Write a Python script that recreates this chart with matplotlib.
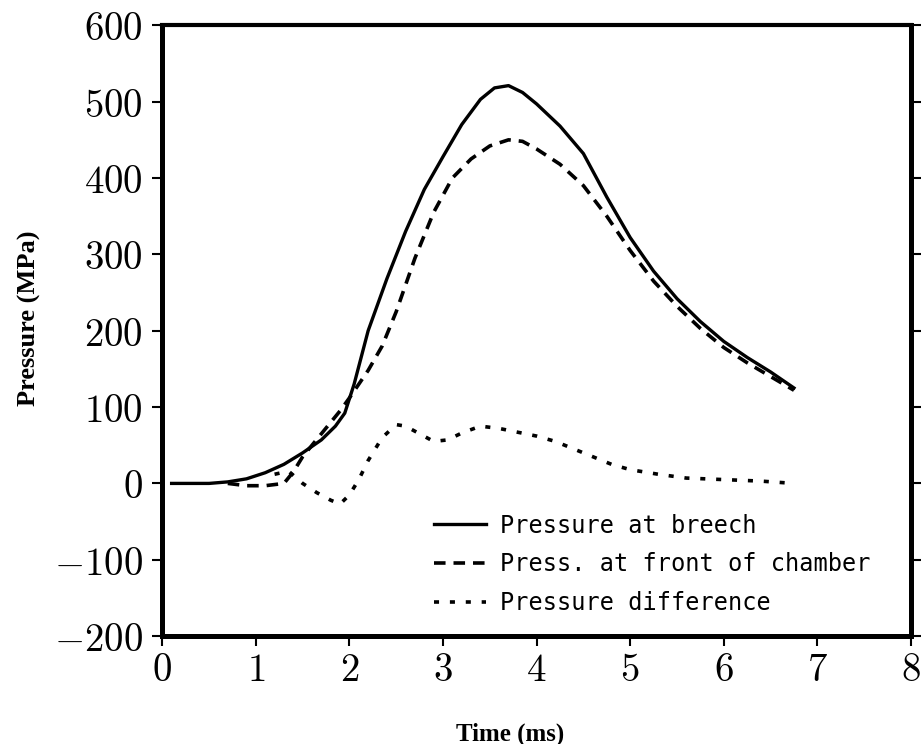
import matplotlib.pyplot as plt
from matplotlib.ticker import FixedLocator, FixedFormatter

plt.rcParams['mathtext.fontset'] = 'cm'

# Pressure at breech
t_breech = [0.1, 0.5, 0.7, 0.9, 1.1, 1.3, 1.5, 1.7, 1.85, 1.95, 2.05, 2.2, 2.4, 2.6, 2.8, 3.0, 3.2, 3.4,
            3.55, 3.7, 3.85, 4.0, 4.25, 4.5, 4.75, 5.0, 5.25, 5.5, 5.75, 6.0, 6.25, 6.5, 6.75]
p_breech = [0, 0, 2, 6, 14, 25, 40, 57, 75, 92, 130, 200, 268, 330, 385, 428, 470, 503,
            518, 521, 512, 497, 468, 432, 375, 322, 278, 242, 212, 186, 165, 146, 125]

# Pressure at front of chamber
t_front = [0.7, 0.9, 1.1, 1.3, 1.4, 1.5, 1.7, 1.9, 2.0, 2.2, 2.35, 2.5, 2.7, 2.9, 3.1, 3.3, 3.5,
           3.7, 3.85, 4.0, 4.25, 4.5, 4.75, 5.0, 5.25, 5.5, 5.75, 6.0, 6.25, 6.5, 6.75]
p_front = [0, -3, -3, 0, 15, 35, 65, 95, 112, 148, 180, 225, 295, 355, 400, 425, 442,
           450, 448, 438, 418, 390, 350, 305, 265, 232, 203, 178, 158, 140, 122]

# Pressure difference
t_diff = [1.2, 1.35, 1.5, 1.65, 1.8, 1.9, 2.0, 2.1, 2.2, 2.35, 2.5, 2.6, 2.75, 2.9, 3.05, 3.2, 3.4,
          3.6, 3.8, 4.0, 4.2, 4.4, 4.6, 4.8, 5.0, 5.3, 5.6, 6.0, 6.4, 6.75]
p_diff = [12, 16, 0, -12, -22, -27, -15, 5, 30, 60, 77, 75, 65, 55, 57, 66, 75,
          72, 67, 62, 55, 45, 35, 25, 18, 12, 7, 5, 3, 0]

xticks = [0, 1, 2, 3, 4, 5, 6, 7, 8]
yticks = [-200, -100, 0, 100, 200, 300, 400, 500, 600]

fig = plt.figure(figsize=(9.22, 7.44), dpi=100)
ax = fig.add_axes([0.176, 0.145, 0.812, 0.821])

ax.plot(t_breech, p_breech, color='black', lw=2.4, label='Pressure at breech')
ax.plot(t_front, p_front, color='black', lw=2.6, linestyle=(0, (3.2, 2.2)),
        label='Press. at front of chamber')
ax.plot(t_diff, p_diff, color='black', lw=2.6, linestyle=(0, (1.4, 3.0)),
        label='Pressure difference')

ax.set_xlim(0, 8)
ax.set_ylim(-200, 600)
ax.xaxis.set_major_locator(FixedLocator(xticks))
ax.xaxis.set_major_formatter(FixedFormatter(['$%d$' % v for v in xticks]))
ax.yaxis.set_major_locator(FixedLocator(yticks))
ax.yaxis.set_major_formatter(FixedFormatter(['$%d$' % v for v in yticks]))

for s in ax.spines.values():
    s.set_linewidth(3.6)
ax.spines['top'].set_linewidth(3.0)
ax.tick_params(axis='both', direction='out', length=7, width=1.5, labelsize=28, pad=7)
ax.tick_params(axis='x', pad=4)
ax.tick_params(axis='y', right=True, labelright=False)

ax.set_xlabel('Time (ms)', family='Liberation Serif', fontweight='bold', fontsize=18, va='center')
ax.xaxis.set_label_coords(0.465, -0.16)
ax.set_ylabel('Pressure (MPa)', family='Liberation Serif', fontweight='bold', fontsize=19, va='center')
ax.yaxis.set_label_coords(-0.178, 0.52)

ax.legend(loc='lower right', frameon=False, handlelength=2.2,
          handletextpad=0.6, labelspacing=0.62, bbox_to_anchor=(0.975, 0.0),
          prop={'family': 'DejaVu Sans Mono', 'size': 17})

fig.savefig('out.png', dpi=100)
